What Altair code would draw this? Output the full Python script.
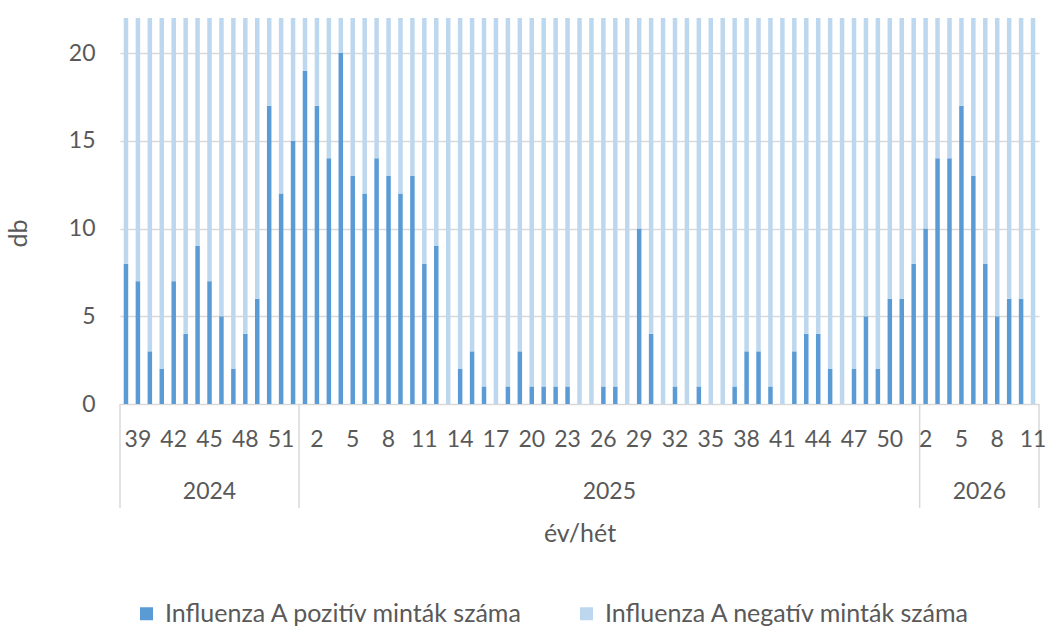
import altair as alt
import pandas as pd

# ---- data ----
years = [2024, 2025, 2026]
weeks_2024 = list(range(38, 53))
weeks_2025 = list(range(1, 53))
weeks_2026 = list(range(2, 12))

pos_2024 = [8, 7, 3, 2, 7, 4, 9, 7, 5, 2, 4, 6, 17, 12, 15]
pos_2025 = [19, 17, 14, 20, 13, 12, 14, 13, 12, 13, 8, 9,
            0, 2, 3, 1, 0, 1, 3, 1, 1, 1, 1, 0, 0, 1, 1, 0,
            10, 4, 0, 1,
            0, 1, 0, 0, 1, 3, 3, 1, 0, 3, 4, 4, 2, 0, 2, 5,
            2, 6, 6, 8]
pos_2026 = [10, 14, 14, 17, 13, 8, 5, 6, 6, 0]

# negative counts exceed the visible axis range (bars are cut at the top)
neg_2024 = [38, 41, 36, 40, 44, 39, 47, 42, 45, 40, 43, 48, 52, 46, 50]
neg_2025 = [55, 51, 49, 53, 47, 45, 48, 44, 46, 43, 41, 42,
            39, 40, 38, 37, 36, 35, 38, 34, 33, 35, 32, 31, 30, 33, 32, 31,
            36, 34, 30, 32,
            31, 33, 34, 32, 35, 37, 36, 38, 39, 40, 41, 43, 42, 44, 45, 47,
            46, 48, 50, 52]
neg_2026 = [51, 54, 53, 56, 52, 49, 47, 46, 45, 44]

POS = "Influenza A pozitív minták száma"
NEG = "Influenza A negatív minták száma"

groups = [(2024, weeks_2024, pos_2024, neg_2024),
          (2025, weeks_2025, pos_2025, neg_2025),
          (2026, weeks_2026, pos_2026, neg_2026)]

rows, lab_rows, year_rows, sep_rows = [], [], [], []
i = 0
for yr, wks, ps, ns in groups:
    start = i
    sep_rows.append({"x": i - 0.5})
    for w, p, n in zip(wks, ps, ns):
        rows.append({"pos": i, "series": POS, "value": p, "ord": 0})
        rows.append({"pos": i, "series": NEG, "value": n, "ord": 1})
        if i % 3 == 1:
            lab_rows.append({"pos": i, "text": str(w)})
        i += 1
    year_rows.append({"pos": (start + i - 1) / 2, "text": str(yr)})
sep_rows.append({"x": i - 0.5})

df = pd.DataFrame(rows)
lab_df = pd.DataFrame(lab_rows)
year_df = pd.DataFrame(year_rows)
sep_df = pd.DataFrame(sep_rows)

W, H = 919, 386
FONT = "Lato"
FS = 23
TXT = "#595959"
GRID = "#d9d9d9"

xs = alt.Scale(domain=[-0.5, i - 0.5], nice=False, zero=False, padding=0)
xaxis = alt.Axis(labels=False, ticks=False, domain=False, grid=False,
                 title="év/hét", titleFont=FONT, titleFontSize=25,
                 titleFontWeight="normal", titleColor=TXT,
                 titleY=137, titleBaseline="alphabetic")

bars = alt.Chart(df).mark_bar(size=4.5, clip=True).encode(
    x=alt.X("pos:Q", scale=xs, axis=xaxis),
    y=alt.Y("value:Q", stack="zero",
            scale=alt.Scale(domain=[0, 22], nice=False),
            axis=alt.Axis(values=[0, 5, 10, 15, 20], domain=False, ticks=False,
                          labelFont=FONT, labelFontSize=FS, labelColor=TXT,
                          labelPadding=25, gridColor=GRID, gridWidth=1.5,
                          title="db", titleFont=FONT, titleFontSize=25,
                          titleFontWeight="normal", titleColor=TXT,
                          titleX=-102, titleY=215, titleAngle=-90,
                          titleAlign="center", titleBaseline="middle")),
    color=alt.Color("series:N",
                    scale=alt.Scale(domain=[POS, NEG], range=["#5b9bd5", "#bdd7ee"]),
                    legend=alt.Legend(title=None, orient="none", legendX=14, legendY=583,
                                      direction="horizontal", symbolType="square",
                                      symbolSize=169, symbolStrokeWidth=0,
                                      labelFont=FONT, labelFontSize=25, labelColor=TXT,
                                      labelLimit=0, labelOffset=6, columnPadding=50,
                                      padding=0)),
    order=alt.Order("ord:Q"),
)

week_labels = alt.Chart(lab_df).mark_text(
    font=FONT, fontSize=FS, color=TXT, baseline="alphabetic", align="center"
).encode(x=alt.X("pos:Q", scale=xs, axis=xaxis), y=alt.value(429), text="text:N")

year_labels = alt.Chart(year_df).mark_text(
    font=FONT, fontSize=FS, color=TXT, baseline="alphabetic", align="center"
).encode(x=alt.X("pos:Q", scale=xs, axis=xaxis), y=alt.value(481), text="text:N")

seps = alt.Chart(sep_df).mark_rule(color=GRID, strokeWidth=1.5).encode(
    x=alt.X("x:Q", scale=xs, axis=xaxis), y=alt.value(H), y2=alt.value(490)
)

chart = alt.layer(bars, seps, week_labels, year_labels).properties(
    width=W, height=H,
    padding={"left": 120, "top": 18, "right": 9, "bottom": 235},
    autosize=alt.AutoSizeParams(type="none"),
).configure_view(stroke=None)

chart.save("out.html", embed_options={"renderer": "svg", "actions": False})
